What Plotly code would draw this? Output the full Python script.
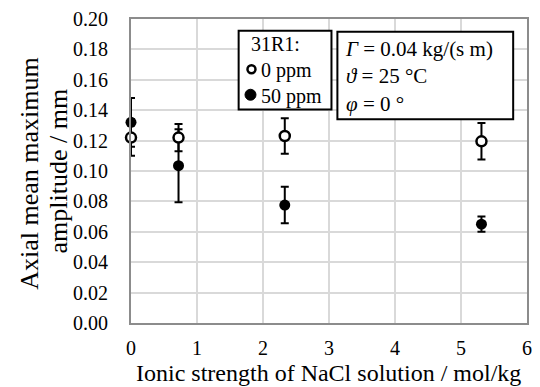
import plotly.graph_objects as go

ionic = [0.0, 0.72, 2.33, 5.31]
amp_0ppm = [0.122, 0.122, 0.123, 0.1195]
err_0ppm = [0.012, 0.009, 0.0117, 0.012]
amp_50ppm = [0.132, 0.1035, 0.0776, 0.065]
err_50ppm = [0.016, 0.024, 0.012, 0.005]

x_ticks = [0, 1, 2, 3, 4, 5, 6]
y_ticks = [0.00, 0.02, 0.04, 0.06, 0.08, 0.10, 0.12, 0.14, 0.16, 0.18, 0.20]

FONT = "Liberation Serif"
W, H = 540, 387
ML, MR, MT, MB = 131, 8, 14, 64
PW, PH = W - ML - MR, H - MT - MB


def px(xp):
    return (xp - ML) / PW


def py(yp):
    return (H - MB - yp) / PH


fig = go.Figure()
fig.add_trace(go.Scatter(
    x=ionic, y=amp_50ppm, mode="markers", name="50 ppm", cliponaxis=False,
    marker=dict(symbol="circle", size=11, color="black"),
    error_y=dict(type="data", array=err_50ppm, color="black", thickness=2, width=4),
))
fig.add_trace(go.Scatter(
    x=ionic, y=amp_0ppm, mode="markers", name="0 ppm", cliponaxis=False,
    marker=dict(symbol="circle", size=10, color="white", line=dict(width=2.5, color="black")),
    error_y=dict(type="data", array=err_0ppm, color="black", thickness=2, width=4),
))

fig.update_layout(
    width=W, height=H,
    margin=dict(l=ML, r=MR, t=MT, b=MB),
    paper_bgcolor="white", plot_bgcolor="white",
    font=dict(family=FONT, size=20, color="black"),
    showlegend=False,
    xaxis=dict(
        range=[0, 6], tickvals=x_ticks, ticktext=[str(v) for v in x_ticks],
        showgrid=True, gridcolor="#d9d9d9", gridwidth=2,
        showline=True, linecolor="#8c8c8c", linewidth=2, mirror=True,
        zeroline=False, ticks="", ticklabelstandoff=6,
        tickfont=dict(family=FONT, size=20, color="black"),
    ),
    yaxis=dict(
        range=[0, 0.2], tickvals=y_ticks, ticktext=[f"{v:.2f}" for v in y_ticks],
        showgrid=True, gridcolor="#d9d9d9", gridwidth=2,
        showline=True, linecolor="#8c8c8c", linewidth=2, mirror=True,
        zeroline=False, ticks="", ticklabelstandoff=17,
        tickfont=dict(family=FONT, size=20, color="black"),
    ),
)

shapes = []
ann = []

# axis titles
ann.append(dict(xref="paper", yref="paper", x=px(331), y=py(374), xanchor="center", yanchor="middle",
                text="Ionic strength of NaCl solution / mol/kg", showarrow=False,
                font=dict(family=FONT, size=24, color="black")))
ann.append(dict(xref="paper", yref="paper", x=px(28), y=py(171), xanchor="center", yanchor="middle",
                text="Axial mean maximum", textangle=-90, showarrow=False,
                font=dict(family=FONT, size=26, color="black")))
ann.append(dict(xref="paper", yref="paper", x=px(58), y=py(168), xanchor="center", yanchor="middle",
                text="amplitude / mm", textangle=-90, showarrow=False,
                font=dict(family=FONT, size=26, color="black")))

# legend box
shapes.append(dict(type="rect", xref="paper", yref="paper",
                   x0=px(240), x1=px(334), y0=py(106), y1=py(26),
                   line=dict(color="black", width=2), fillcolor="white", layer="above"))
shapes.append(dict(type="circle", xref="paper", yref="paper", xsizemode="pixel", ysizemode="pixel",
                   xanchor=px(253), yanchor=py(65), x0=-4, x1=4, y0=-4, y1=4,
                   line=dict(color="black", width=2.5), fillcolor="white", layer="above"))
shapes.append(dict(type="circle", xref="paper", yref="paper", xsizemode="pixel", ysizemode="pixel",
                   xanchor=px(252), yanchor=py(91), x0=-5.5, x1=5.5, y0=-5.5, y1=5.5,
                   line=dict(color="black", width=1), fillcolor="black", layer="above"))
NB = "\u00a0"
ann.append(dict(xref="paper", yref="paper", x=px(250), y=py(66), xanchor="left", yanchor="middle",
                text=f"31R1:<br>{NB*2}0 ppm<br>{NB*2}50 ppm", align="left", showarrow=False,
                font=dict(family=FONT, size=20, color="black")))

# info box
shapes.append(dict(type="rect", xref="paper", yref="paper",
                   x0=px(340), x1=px(518), y0=py(116), y1=py(27),
                   line=dict(color="black", width=2), fillcolor="white", layer="above"))
ann.append(dict(xref="paper", yref="paper", x=px(346), y=py(72), xanchor="left", yanchor="middle",
                text="<i>Γ</i> = 0.04 kg/(s m)<br><i>ϑ</i> = 25 °C<br><i>φ</i> = 0 °",
                align="left", showarrow=False, font=dict(family=FONT, size=21, color="black")))

fig.update_layout(shapes=shapes, annotations=ann)
fig.write_html("out.html")
